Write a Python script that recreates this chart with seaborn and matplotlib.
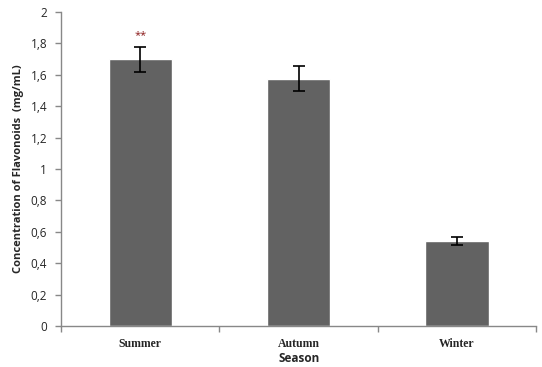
import pandas as pd
import numpy as np
import matplotlib
matplotlib.use("Agg")
import matplotlib.pyplot as plt
import seaborn as sns

# --------------------------------------------
# Data
# --------------------------------------------
seasons = ["Summer", "Autumn", "Winter"]
flavonoids = [1.70, 1.575, 0.541]
errors = [0.08, 0.08, 0.025]
significance = ["**", "", ""]
yticks = [0, 0.2, 0.4, 0.6, 0.8, 1.0, 1.2, 1.4, 1.6, 1.8, 2.0]

df = pd.DataFrame({"Season": seasons, "Flavonoids": flavonoids, "SE": errors})

# --------------------------------------------
# Plot
# --------------------------------------------
sns.set_style("white")
plt.rcParams["font.family"] = ["Open Sans", "DejaVu Sans"]

fig = plt.figure(figsize=(5.42, 3.67), dpi=100)
ax = fig.add_axes([0.1125, 0.112, 0.877, 0.855])

sns.barplot(data=df, x="Season", y="Flavonoids", color="#626262",
            saturation=1, width=0.4, errorbar=None, ax=ax)
ax.errorbar(range(len(seasons)), df["Flavonoids"], yerr=df["SE"],
            fmt="none", ecolor="black", elinewidth=1.2, capsize=4, capthick=1.2)

for i, s in enumerate(significance):
    if s:
        ax.text(i, df["Flavonoids"][i] + df["SE"][i] + 0.07, s,
                ha="center", va="center", color="#8b1a1a", fontsize=8)

ax.set_ylim(0, 2)
ax.set_xlim(-0.5, 2.5)
ax.set_yticks(yticks)
ax.set_yticklabels([f"{v:g}".replace(".", ",") for v in yticks], fontsize=8.5)
ax.set_xticks(range(len(seasons)))
ax.set_xticklabels(seasons, fontsize=8.5, fontweight="bold",
                   family="Liberation Serif")
ax.set_xticks([-0.5, 0.5, 1.5, 2.5], minor=True)
ax.tick_params(axis="x", which="major", length=0, pad=9)
ax.tick_params(axis="x", which="minor", length=4, color="#888888", width=1,
               direction="out", bottom=True)
ax.tick_params(axis="y", length=4, color="#888888", width=1,
               direction="out", left=True, pad=6)

for side in ["top", "right"]:
    ax.spines[side].set_visible(False)
for side in ["left", "bottom"]:
    ax.spines[side].set_color("#888888")
    ax.spines[side].set_linewidth(1)

ax.set_xlabel("Season", fontsize=8.5, fontweight="bold", labelpad=1)
ax.set_ylabel("Concentration of Flavonoids  (mg/mL)", fontsize=8,
              fontweight="bold", labelpad=5)

fig.savefig("out.png", dpi=100)
